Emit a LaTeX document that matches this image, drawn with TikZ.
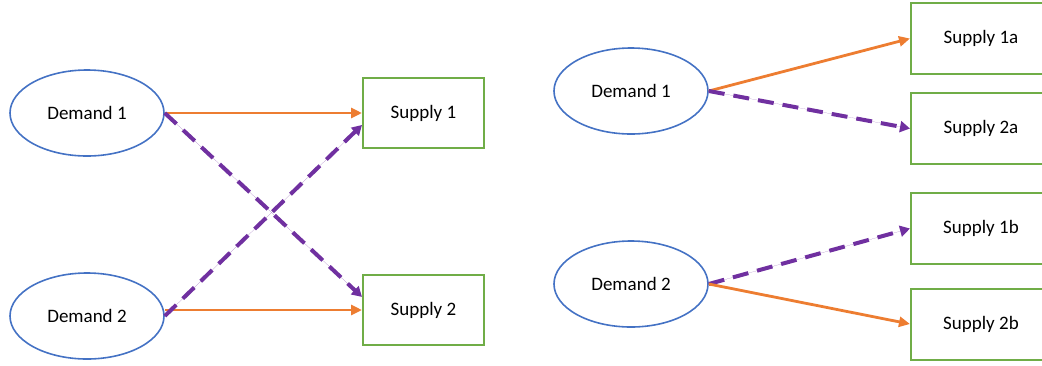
\documentclass[tikz,border=0pt]{standalone}
\usepackage{fontspec}
\setmainfont{Carlito}
\usetikzlibrary{shapes.geometric,arrows.meta}

\definecolor{demblue}{HTML}{4472C4}
\definecolor{supgreen}{HTML}{70AD47}
\definecolor{flworange}{HTML}{ED7D31}
\definecolor{flwpurple}{HTML}{7030A0}

\tikzset{
  demand/.style={ellipse, draw=demblue, line width=1.6pt, minimum width=154pt, minimum height=86pt, inner sep=0pt, font=\fontsize{19}{22}\selectfont},
  supply/.style={rectangle, draw=supgreen, line width=2pt, minimum width=121pt, minimum height=70pt, inner sep=0pt, font=\fontsize{19}{22}\selectfont},
  primary/.style={draw=flworange, line width=2.8pt, -{Triangle[length=11pt,width=10pt]}, fill=flworange},
  backup/.style={draw=flwpurple, line width=4pt, dash pattern=on 16pt off 9pt, -{Triangle[length=10pt,width=11pt]}, fill=flwpurple}
}

\begin{document}
\begin{tikzpicture}[x=1pt, y=-1pt]

  \useasboundingbox (0,0) rectangle (1042,365);

  % crossed pairing
  \node [demand] (d1) at (87,113) {Demand 1};
  \node [demand] (d2) at (87,316) {Demand 2};
  \node [supply] (s1) at (423.5,113) {Supply 1};
  \node [supply] (s2) at (423.5,310) {Supply 2};

  \draw [primary] (d1.east) -- (s1.west);
  \draw [primary] (d2.east |- s2.west) -- (s2.west);
  \draw [backup] (d1.east) -- (s2.168);
  \draw [backup] (d2.east) -- (s1.191);

  % split pairing
  \node [demand] (dd1) at (631,91) {Demand 1};
  \node [demand] (dd2) at (631,284) {Demand 2};
  \node [supply, minimum width=140pt, minimum height=71pt] (s1a) at (981,38.5) {Supply 1a};
  \node [supply, minimum width=140pt, minimum height=71pt] (s2a) at (981,128.5) {Supply 2a};
  \node [supply, minimum width=140pt, minimum height=71pt] (s1b) at (981,228.5) {Supply 1b};
  \node [supply, minimum width=140pt, minimum height=71pt] (s2b) at (981,324) {Supply 2b};

  \draw [primary] (dd1.east) -- (s1a.west);
  \draw [backup] (dd1.east) -- (s2a.west);
  \draw [backup] (dd2.east) -- (s1b.west);
  \draw [primary] (dd2.east) -- (s2b.west);

\end{tikzpicture}
\end{document}
